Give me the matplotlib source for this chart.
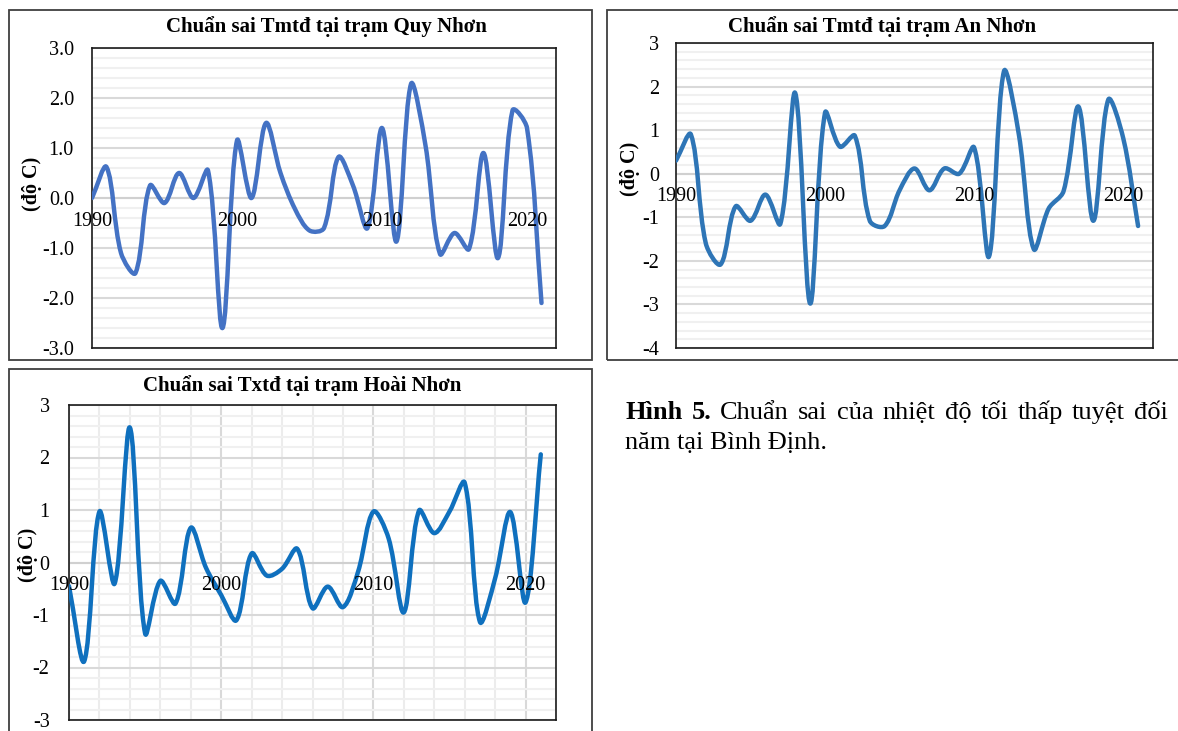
import matplotlib
matplotlib.use("Agg")
import matplotlib.pyplot as plt
from matplotlib.path import Path
from matplotlib.patches import PathPatch, Rectangle
from matplotlib.ticker import MultipleLocator, FormatStrFormatter
import numpy as np

plt.rcParams['font.family'] = ['Liberation Serif', 'DejaVu Serif']
plt.rcParams['axes.unicode_minus'] = False

# anomaly series, one value per year
years = list(range(1990, 2022))
quy_nhon = [0.0, 0.62, -1.1, -1.5, 0.25, -0.1, 0.5, 0.0, 0.55, -2.6,
            1.15, 0.0, 1.5, 0.5, -0.22, -0.65, -0.6, 0.82, 0.25, -0.6,
            1.4, -0.87, 2.28, 1.05, -1.12, -0.7, -1.02, 0.9, -1.2, 1.75,
            1.4, -2.1]
an_nhon = [0.3, 0.9, -1.6, -2.08, -0.75, -1.08, -0.48, -1.15, 1.85, -2.98,
           1.4, 0.62, 0.87, -1.08, -1.2, -0.38, 0.12, -0.38, 0.12, 0.0,
           0.6, -1.9, 2.35, 0.9, -1.73, -0.8, -0.4, 1.54, -1.08, 1.7,
           0.82, -1.2]
hoai_nhon = [-0.45, -1.88, 0.97, -0.4, 2.57, -1.35, -0.35, -0.78, 0.66, -0.1,
             -0.62, -1.1, 0.17, -0.25, -0.12, 0.26, -0.87, -0.46, -0.85, -0.17,
             0.97, 0.46, -0.95, 0.99, 0.56, 0.97, 1.52, -1.13, -0.3, 0.96,
             -0.76, 2.06]
year_labels = [1990, 2000, 2010, 2020]

W, H = 1178, 731
fig = plt.figure(figsize=(W / 100, H / 100), dpi=100)


def px_axes(l, t, r, b):
    return fig.add_axes([l / W, 1 - b / H, (r - l) / W, (b - t) / H])


def box(l, t, r, b):
    fig.add_artist(Rectangle((l / W, 1 - b / H), (r - l) / W, (b - t) / H,
                             transform=fig.transFigure, fill=False,
                             ec='#3f3f3f', lw=1.3))


def smooth_line(ax, x, y, color):
    # bezier through every point; control arms are split by the lengths of
    # the neighbouring segments on screen, so short steps do not overshoot
    pts = ax.transData.transform(np.column_stack([x, y]).astype(float))
    p = np.vstack([pts[0], pts, pts[-1]])
    n = len(pts)
    arm_in = np.zeros_like(pts)
    arm_out = np.zeros_like(pts)
    for i in range(n):
        prev, cur, nxt = p[i], p[i + 1], p[i + 2]
        d = nxt - prev
        d1 = np.hypot(*(cur - prev))
        d2 = np.hypot(*(nxt - cur))
        tot = d1 + d2 if d1 + d2 > 0 else 1.0
        arm_out[i] = cur + d / 3 * d2 / tot
        arm_in[i] = cur - d / 3 * d1 / tot
    verts = [pts[0]]
    codes = [Path.MOVETO]
    for i in range(n - 1):
        verts += [arm_out[i], arm_in[i + 1], pts[i + 1]]
        codes += [Path.CURVE4] * 3
    verts = ax.transData.inverted().transform(np.array(verts))
    ax.add_patch(PathPatch(Path(verts, codes), fill=False, edgecolor=color,
                           lw=3.2, capstyle='round', joinstyle='round', zorder=3))


def style(ax, ymin, ymax, fmt, color, data, vgrid=False, pad=13):
    ax.set_xlim(1990, 2022)
    ax.set_ylim(ymin, ymax)
    ax.yaxis.set_major_locator(MultipleLocator(1))
    ax.yaxis.set_minor_locator(MultipleLocator(0.2))
    ax.yaxis.set_major_formatter(FormatStrFormatter(fmt))
    ax.grid(True, which='major', axis='y', color='#d9d9d9', lw=1.5, zorder=0)
    ax.grid(True, which='minor', axis='y', color='#f0f0f0', lw=1.5, zorder=0)
    if vgrid:
        ax.xaxis.set_major_locator(MultipleLocator(10))
        ax.xaxis.set_minor_locator(MultipleLocator(2))
        ax.grid(True, which='major', axis='x', color='#d9d9d9', lw=1.5, zorder=0)
        ax.grid(True, which='minor', axis='x', color='#ececec', lw=1.5, zorder=0)
    ax.set_axisbelow(True)
    ax.tick_params(axis='both', which='both', length=0)
    ax.tick_params(axis='y', labelsize=14.5, pad=pad)
    ax.set_xticklabels([])
    ax.set_xticklabels([], minor=True)
    for s in ax.spines.values():
        s.set_color('#1a1a1a')
        s.set_linewidth(1.2)
    ax.axhline(0, color='#d0d0d0', lw=1.5, zorder=1)
    smooth_line(ax, years, data, color)
    for yr in year_labels:
        ax.annotate(str(yr), xy=(yr, 0), xytext=(0, -23),
                    textcoords='offset pixels', ha='center', va='center',
                    fontsize=14.5, zorder=5)


# Quy Nhon
box(9, 10, 592, 360)
ax1 = px_axes(92, 48, 556, 348)
style(ax1, -3, 3, '%.1f', '#4472c4', quy_nhon, pad=13)
fig.text(326 / W, 1 - 27 / H, 'Chuẩn sai Tmtđ tại trạm Quy Nhơn',
         ha='center', va='center', fontsize=15, fontweight='bold')
fig.text(32 / W, 1 - 184 / H, '(độ C)', rotation=90, ha='center',
         va='center', fontsize=14.5, fontweight='bold')

# An Nhon
box(607, 10, 1190, 360)
ax2 = px_axes(676, 43, 1153, 348)
style(ax2, -4, 3, '%d', '#2e75b6', an_nhon, pad=12)
fig.text(882 / W, 1 - 27 / H, 'Chuẩn sai Tmtđ tại trạm An Nhơn',
         ha='center', va='center', fontsize=15, fontweight='bold')
fig.text(630 / W, 1 - 169 / H, '(độ C)', rotation=90, ha='center',
         va='center', fontsize=14.5, fontweight='bold')

# Hoai Nhon
box(9, 369, 592, 745)
ax3 = px_axes(69, 405, 556, 720)
style(ax3, -3, 3, '%d', '#0f70be', hoai_nhon, vgrid=True, pad=14)
fig.text(302 / W, 1 - 386 / H, 'Chuẩn sai Txtđ tại trạm Hoài Nhơn',
         ha='center', va='center', fontsize=15, fontweight='bold')
fig.text(28 / W, 1 - 555 / H, '(độ C)', rotation=90, ha='center',
         va='center', fontsize=14.5, fontweight='bold')

# caption, first line justified between two margins
renderer = fig.canvas.get_renderer()
line1 = [('Hình', 'bold'), ('5.', 'bold'), ('Chuẩn', 'normal'), ('sai', 'normal'),
         ('của', 'normal'), ('nhiệt', 'normal'), ('độ', 'normal'), ('tối', 'normal'),
         ('thấp', 'normal'), ('tuyệt', 'normal'), ('đối', 'normal')]
x_left, x_right = 625, 1168
texts = [fig.text(0, 0, w, fontsize=19, fontweight=fw, va='baseline')
         for w, fw in line1]
widths = [t.get_window_extent(renderer).width for t in texts]
gap = (x_right - x_left - sum(widths)) / (len(texts) - 1)
x = x_left
for t, w in zip(texts, widths):
    t.set_position((x / W, 1 - 419 / H))
    x += w + gap
fig.text(x_left / W, 1 - 449 / H, 'năm tại Bình Định.', fontsize=19,
         va='baseline')

fig.savefig('out.png', dpi=100)
